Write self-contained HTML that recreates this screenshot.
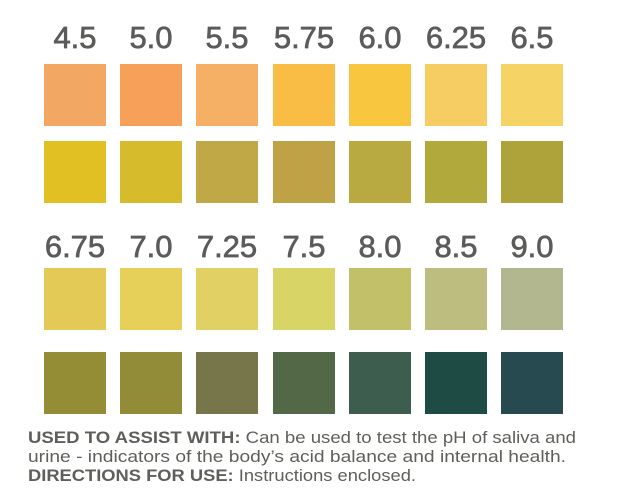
<!DOCTYPE html>
<html><head><style>
html,body{margin:0;padding:0;background:#fff;width:624px;height:497px;overflow:hidden}
</style></head><body>
<svg width="624" height="497" xmlns="http://www.w3.org/2000/svg" font-family="Liberation Sans, sans-serif">
<g fill="#5b5b5a" stroke="#5b5b5a" stroke-width="0.7" font-size="31" text-anchor="middle">
<text x="75" y="48">4.5</text><text x="151" y="48">5.0</text><text x="227" y="48">5.5</text><text x="304" y="48">5.75</text><text x="380" y="48">6.0</text><text x="456" y="48">6.25</text><text x="532" y="48">6.5</text>
<text x="75" y="257">6.75</text><text x="151" y="257">7.0</text><text x="227" y="257">7.25</text><text x="304" y="257">7.5</text><text x="380" y="257">8.0</text><text x="456" y="257">8.5</text><text x="532" y="257">9.0</text>
</g>
<g>
<rect x="44" y="64" width="62" height="62" fill="#F2A862"/><rect x="120" y="64" width="62" height="62" fill="#F7A05A"/><rect x="196" y="64" width="62" height="62" fill="#F5B066"/><rect x="273" y="64" width="62" height="62" fill="#F9BD45"/><rect x="349" y="64" width="62" height="62" fill="#F9C73F"/><rect x="425" y="64" width="62" height="62" fill="#F6CD63"/><rect x="501" y="64" width="62" height="62" fill="#F5D465"/>
<rect x="44" y="141" width="62" height="62" fill="#E0C022"/><rect x="120" y="141" width="62" height="62" fill="#D6BB2C"/><rect x="196" y="141" width="62" height="62" fill="#BFA845"/><rect x="273" y="141" width="62" height="62" fill="#BFA245"/><rect x="349" y="141" width="62" height="62" fill="#B8AA40"/><rect x="425" y="141" width="62" height="62" fill="#B2A93D"/><rect x="501" y="141" width="62" height="62" fill="#ADA33A"/>
<rect x="44" y="268" width="62" height="62" fill="#E3C955"/><rect x="120" y="268" width="62" height="62" fill="#E6D05A"/><rect x="196" y="268" width="62" height="62" fill="#E1D164"/><rect x="273" y="268" width="62" height="62" fill="#D8D466"/><rect x="349" y="268" width="62" height="62" fill="#C2C16A"/><rect x="425" y="268" width="62" height="62" fill="#BDBD7F"/><rect x="501" y="268" width="62" height="62" fill="#B3B78F"/>
<rect x="44" y="352" width="62" height="62" fill="#948D36"/><rect x="120" y="352" width="62" height="62" fill="#928B38"/><rect x="196" y="352" width="62" height="62" fill="#77754A"/><rect x="273" y="352" width="62" height="62" fill="#536847"/><rect x="349" y="352" width="62" height="62" fill="#3D5E4F"/><rect x="425" y="352" width="62" height="62" fill="#1E4C45"/><rect x="501" y="352" width="62" height="62" fill="#274A51"/>
</g>
<g fill="#5f5f5a" font-size="17">
<text x="28" y="443" textLength="548" lengthAdjust="spacingAndGlyphs"><tspan font-weight="bold">USED TO ASSIST WITH:</tspan> Can be used to test the pH of saliva and</text>
<text x="28" y="462" textLength="538" lengthAdjust="spacingAndGlyphs">urine -  indicators of the body’s acid balance and internal health.</text>
<text x="28" y="481" textLength="388" lengthAdjust="spacingAndGlyphs"><tspan font-weight="bold">DIRECTIONS FOR USE:</tspan> Instructions enclosed.</text>
</g>
</svg>
</body></html>
